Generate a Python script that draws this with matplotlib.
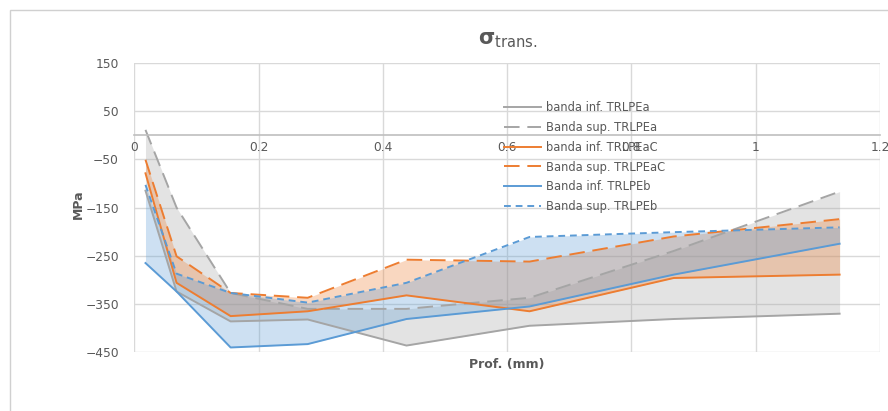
import matplotlib.pyplot as plt
from matplotlib.patches import Rectangle

# depth (mm)
prof = [0.018, 0.068, 0.155, 0.279, 0.438, 0.636, 0.868, 1.135]

inf_a = [-115, -324, -386, -382, -436, -395, -381, -370]
sup_a = [11, -150, -327, -360, -360, -337, -240, -117]
inf_ac = [-79, -306, -375, -365, -332, -365, -296, -289]
sup_ac = [-51, -251, -327, -337, -258, -262, -210, -174]
inf_b = [-265, -324, -440, -433, -381, -355, -289, -225]
sup_b = [-103, -287, -327, -347, -306, -211, -201, -191]

xticks = [0, 0.2, 0.4, 0.6, 0.8, 1, 1.2]
xticklabels = ["0", "0.2", "0.4", "0.6", "0.8", "1", "1.2"]
yticks = [150, 50, -50, -150, -250, -350, -450]

GRAY = "#a5a5a5"
ORANGE = "#ed7d31"
BLUE = "#5b9bd5"
TXT = "#595959"

fig = plt.figure(figsize=(8.88, 4.11), dpi=100)
fig.patches.append(Rectangle((10 / 888, -0.05), 1.0, 1 - 10 / 411 + 0.05,
                             transform=fig.transFigure, fill=False,
                             edgecolor="#d0d0d0", linewidth=1))
ax = fig.add_axes([134.3 / 888, 1 - 352.3 / 411, (880 - 134.3) / 888, (352.3 - 62.8) / 411])

ax.fill_between(prof, inf_a, sup_a, color=GRAY, alpha=0.3, linewidth=0)
ax.fill_between(prof, inf_ac, sup_ac, color=ORANGE, alpha=0.3, linewidth=0)
ax.fill_between(prof, inf_b, sup_b, color=BLUE, alpha=0.3, linewidth=0)

ax.plot(prof, inf_a, color=GRAY, lw=1.4, label="banda inf. TRLPEa")
ax.plot(prof, sup_a, color=GRAY, lw=1.4, dashes=(8, 4), label="Banda sup. TRLPEa")
ax.plot(prof, inf_ac, color=ORANGE, lw=1.4, label="banda inf. TRLPEaC")
ax.plot(prof, sup_ac, color=ORANGE, lw=1.4, dashes=(8, 4), label="Banda sup. TRLPEaC")
ax.plot(prof, inf_b, color=BLUE, lw=1.4, label="Banda inf. TRLPEb")
ax.plot(prof, sup_b, color=BLUE, lw=1.4, dashes=(3.5, 2.5), label="Banda sup. TRLPEb")

ax.set_xlim(0, 1.2)
ax.set_ylim(-450, 150)
ax.set_xticks(xticks)
ax.set_xticklabels(xticklabels)
ax.set_yticks(yticks)
ax.grid(True, color="#d9d9d9", linewidth=1)
ax.set_axisbelow(True)

for s in ["top", "right", "left"]:
    ax.spines[s].set_visible(False)
ax.spines["bottom"].set_position(("data", 0))
ax.spines["bottom"].set_color("#bfbfbf")
ax.spines["bottom"].set_linewidth(1.2)
ax.tick_params(axis="both", length=0, labelsize=8.8, labelcolor=TXT)
ax.tick_params(axis="x", pad=4)
ax.tick_params(axis="y", pad=11)

ax.set_title(r"$\mathbf{\sigma}_{\mathrm{trans.}}$", fontsize=15, color=TXT, pad=13)
fig.text(78 / 888, 1 - 204 / 411, "MPa", rotation=90, ha="center", va="center",
         fontsize=9, fontweight="bold", color=TXT)
fig.text(507 / 888, 1 - 364 / 411, "Prof. (mm)", ha="center", va="center",
         fontsize=9, fontweight="bold", color=TXT)

leg = ax.legend(loc="upper left", bbox_to_anchor=(498 / 888, 1 - 95 / 411),
                bbox_transform=fig.transFigure, frameon=False, fontsize=8.3,
                handlelength=3.2, handletextpad=0.5, labelspacing=0.6,
                borderpad=0)
for t in leg.get_texts():
    t.set_color(TXT)

fig.savefig("out.png", dpi=100)
